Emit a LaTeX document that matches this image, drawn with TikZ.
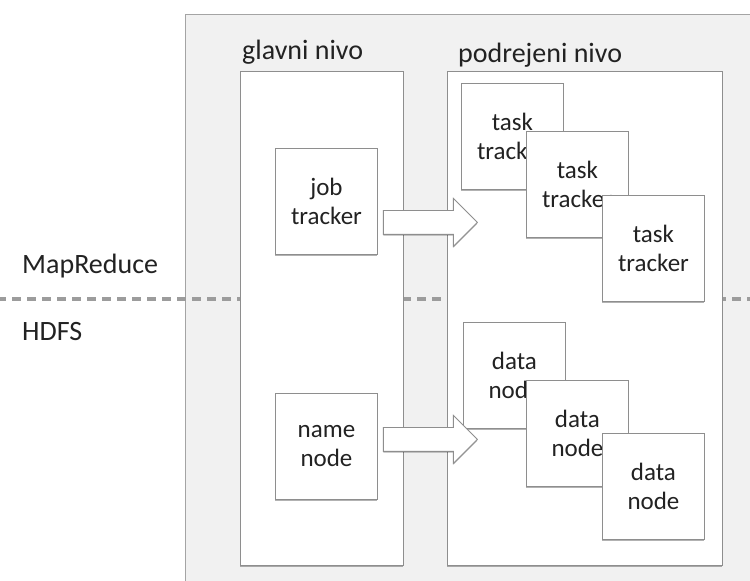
\documentclass[tikz,border=0pt]{standalone}
\usepackage{fontspec}
\setmainfont{Carlito}
\usetikzlibrary{shapes.arrows,shadows}
\definecolor{hdpgray}{HTML}{F1F1F1}
\definecolor{hdpline}{HTML}{8E8E8E}
\definecolor{hdpdash}{HTML}{9C9C9C}
\definecolor{hdptext}{HTML}{222222}

\tikzset{
  panel/.style={draw=hdpline,fill=white,line width=0.9pt,
    drop shadow={shadow xshift=0pt,shadow yshift=-1.3pt,opacity=0.3,fill=black}},
  level/.style={panel,anchor=north west,minimum height=494pt,inner sep=0pt},
  tracker/.style={panel,anchor=north west,minimum width=102pt,minimum height=106pt,
    align=center,text=hdptext,font=\fontsize{25}{29}\selectfont},
  caption/.style={anchor=base west,inner sep=0pt,text=hdptext,font=\fontsize{28}{33}\selectfont},
  bigarrow/.style={single arrow,draw=hdpline,fill=white,line width=0.9pt,
    minimum height=94pt,single arrow head extend=12pt,
    inner xsep=0pt,inner ysep=11.5pt,anchor=tail,
    drop shadow={shadow xshift=0pt,shadow yshift=-1.3pt,opacity=0.3,fill=black}}
}

\begin{document}
\begin{tikzpicture}[x=1pt,y=-1pt]
  \useasboundingbox (0,0) rectangle (750,581);
  % background
  \fill[hdpgray] (185,14) rectangle (752,583);
  \draw[hdpline!80,line width=0.9pt] (185,583) -- (185,14) -- (752,14);
  \draw[hdpdash,line width=4pt,dash pattern=on 9pt off 6pt,dash phase=-12pt] (0,299) -- (750,299);

  % labels
  \node[caption] (mapred) at (22,273) {MapReduce};
  \node[caption] (hdfs) at (22,340) {HDFS};
  \node[caption] (mainlbl) at (242,59) {glavni nivo};
  \node[caption] (sublbl) at (458,62) {podrejeni nivo};

  % levels
  \node[level,minimum width=163pt] (main) at (240,71) {};
  \node[level,minimum width=275pt] (sub) at (447,71) {};

  % master side
  \node[tracker] (job) at (275,148) {job\\tracker};
  \node[tracker] (name) at (275,393) {name\\node};

  % slave side
  \node[tracker] (task1) at (461,83) {task\\tracker};
  \node[tracker] (task2) at (526,131) {task\\tracker};
  \node[tracker] (task3) at (602,195) {task\\tracker};
  \node[tracker] (data1) at (463,322) {data\\node};
  \node[tracker] (data2) at (526,380) {data\\node};
  \node[tracker] (data3) at (602,433) {data\\node};

  % block arrows
  \node[bigarrow] (jobarrow) at ([xshift=5pt,yshift=-21pt]job.east) {};
  \node[bigarrow] (namearrow) at ([xshift=5pt,yshift=7pt]name.east) {};
\end{tikzpicture}
\end{document}
